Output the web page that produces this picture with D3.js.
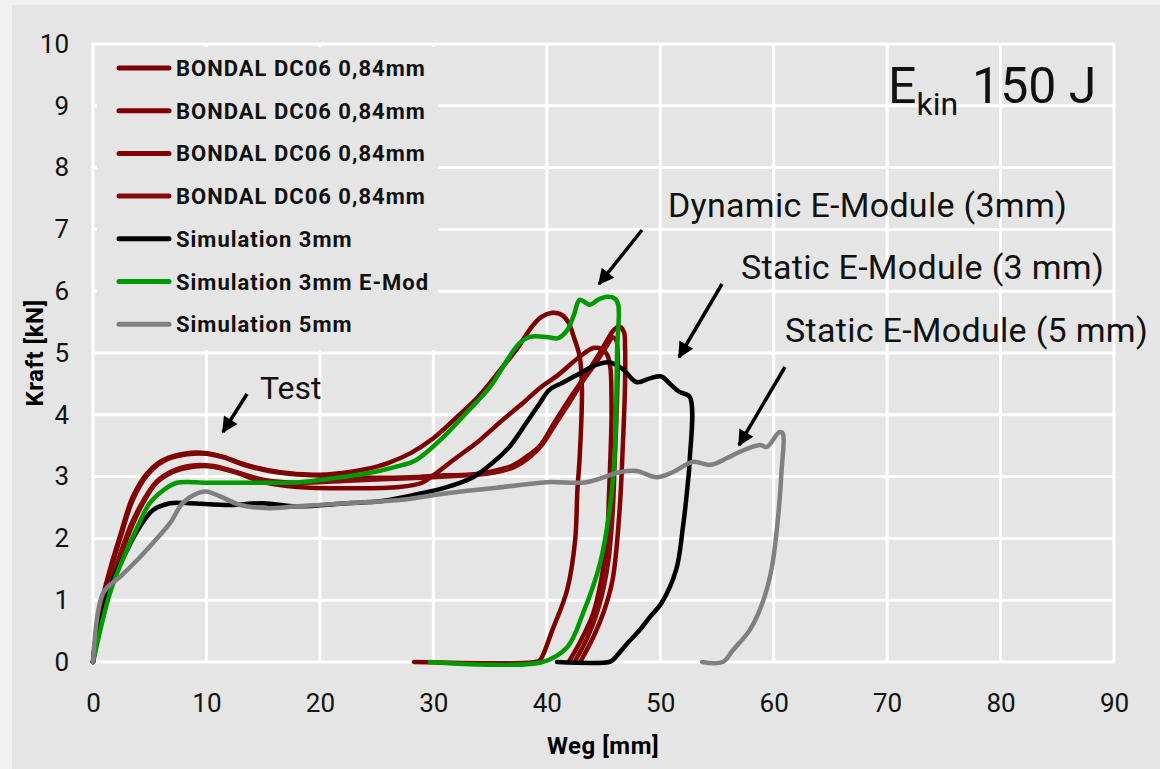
<!DOCTYPE html>
<html>
<head>
<meta charset="utf-8">
<script src="https://cdn.jsdelivr.net/npm/d3@7"></script>
<style>
html, body { margin: 0; padding: 0; background: #f1f1f1; }
svg { display: block; }
</style>
</head>
<body>
<div id="chart"></div>
<script>
// Axis ticks
const xTicks = [0, 10, 20, 30, 40, 50, 60, 70, 80, 90];
const yTicks = [0, 1, 2, 3, 4, 5, 6, 7, 8, 9, 10];

// Legend names, in drawing order
const seriesNames = [
    "BONDAL DC06 0,84mm",
    "BONDAL DC06 0,84mm",
    "BONDAL DC06 0,84mm",
    "BONDAL DC06 0,84mm",
    "Simulation 3mm",
    "Simulation 3mm E-Mod",
    "Simulation 5mm"
];

// [Weg mm, Kraft kN]
const bondal1 = [[0,0],[0.5,0.75],[1.5,1.5],[2.4,2.05],[3.5,2.67],[4.8,3.06],[6.2,3.27],[8.3,3.38],[10,3.38],[11.5,3.32],[13.5,3.19],[16.5,3.07],[19.4,3.03],[22,3.06],[24,3.12],[26,3.22],[28,3.38],[30,3.62],[32,3.95],[34,4.3],[36,4.75],[37.5,5.1],[38.5,5.38],[39.5,5.58],[40.5,5.65],[41.3,5.62],[41.9,5.5],[42.4,5.25],[42.9,4.94],[43.1,4.4],[42.9,3.32],[42.7,2.78],[42.5,1.97],[41.8,1.17],[40.5,0.52],[39.4,0.03],[39,0],[28.3,0]];
const bondal2 = [[0,0],[0.5,0.6],[1.8,1.38],[3.3,2.14],[4.4,2.57],[5.6,2.9],[7,3.07],[8.8,3.16],[10.6,3.16],[12.7,3.06],[15,2.91],[18,2.83],[22.4,2.81],[27,2.83],[29,2.9],[30,3.02],[32,3.3],[34.1,3.59],[36,3.9],[37.9,4.19],[39.5,4.45],[40.9,4.63],[42.9,4.94],[44.1,5.08],[44.8,5.07],[45.3,4.98],[45.6,4.77],[45.7,4.3],[45.7,3.87],[45.5,2.78],[45.3,1.97],[44.8,1.33],[44.1,0.79],[42.9,0.31],[42,0.02]];
const bondal3 = [[0,0],[0.5,0.7],[1.5,1.45],[2.4,2.0],[3.5,2.62],[4.8,3.03],[6.2,3.25],[8.3,3.36],[10,3.37],[11.5,3.31],[13.5,3.18],[16.5,3.06],[19.4,3.02],[22,3.0],[25,2.98],[28,2.99],[31,3.02],[33,3.03],[34.5,3.06],[36,3.12],[37,3.18],[38.2,3.32],[39.4,3.5],[40.6,3.85],[41.8,4.2],[42.9,4.5],[44.4,4.92],[45.3,5.2],[45.9,5.37],[46.4,5.43],[46.8,5.34],[46.9,5.1],[46.9,4.5],[46.7,3.48],[46.4,2.41],[45.8,1.33],[45,0.8],[44.1,0.4],[43,0.02]];
const bondal4 = [[0,0],[0.5,0.65],[1.8,1.42],[3.3,2.2],[4.4,2.6],[5.6,2.92],[7,3.09],[8.8,3.18],[10.6,3.17],[12.7,3.07],[15,2.95],[18,2.9],[22,2.93],[26,2.96],[30,2.99],[33,3.02],[34.5,3.04],[36,3.09],[37.2,3.16],[38.4,3.3],[39.6,3.52],[40.8,3.86],[42,4.2],[43.2,4.55],[44.4,4.86],[45.3,5.12],[45.8,5.25],[46.1,5.22],[46.25,5.0],[46.2,4.3],[46.0,3.3],[45.8,2.4],[45.4,1.6],[44.6,0.9],[43.6,0.4],[42.5,0.02]];
const sim3mm = [[0,0],[1.5,1.21],[3,1.81],[4.1,2.18],[5.3,2.46],[6.8,2.57],[8.5,2.57],[12.1,2.54],[15,2.57],[18,2.52],[22.4,2.57],[25.3,2.6],[28.2,2.7],[31.2,2.83],[33.5,2.99],[35.2,3.22],[36.7,3.48],[38.2,3.87],[39.4,4.19],[40.2,4.4],[41.4,4.52],[42.9,4.67],[44.4,4.81],[45.5,4.85],[46.7,4.74],[47.9,4.53],[49.1,4.59],[50.1,4.62],[50.8,4.51],[51.7,4.37],[52.6,4.29],[52.6,3.27],[52.4,2.83],[52,2.18],[51.4,1.49],[50.1,0.95],[49.1,0.73],[48.2,0.52],[47,0.28],[45.8,0.03],[45.5,0],[40.9,0]];
const sim3mmEMod = [[0,0],[1.5,1.12],[2.6,1.65],[3.9,2.18],[5,2.57],[6.2,2.78],[7.4,2.9],[10,2.9],[14.4,2.9],[18.2,2.91],[21,2.97],[24.1,3.05],[26.5,3.15],[28.5,3.27],[30.6,3.59],[32.9,4.03],[35,4.45],[36.7,4.94],[37.6,5.16],[38.5,5.26],[40,5.26],[41,5.24],[41.8,5.37],[42.4,5.62],[42.9,5.86],[43.8,5.78],[44.5,5.86],[45.3,5.91],[46.0,5.88],[46.3,5.78],[46.2,5.05],[46.0,3.38],[45.5,2.41],[44.7,1.6],[43.2,0.79],[41.8,0.24],[39.6,0],[29.7,0]];
const sim5mm = [[0,0],[0.9,1.12],[2.4,1.38],[3.9,1.65],[5.3,1.93],[6.8,2.25],[7.9,2.57],[9.2,2.73],[10,2.76],[11.2,2.68],[13,2.54],[15.3,2.49],[18,2.52],[22.4,2.57],[27,2.62],[31.2,2.73],[35.6,2.82],[40,2.91],[43.5,2.91],[46.4,3.07],[47.9,3.09],[49.7,2.99],[51.1,3.07],[52.9,3.24],[54.4,3.19],[55.9,3.3],[57,3.4],[58.8,3.51],[59.4,3.48],[60.5,3.72],[60.8,3.7],[60.7,3.11],[60.3,2.18],[59.8,1.49],[59,0.95],[57.9,0.52],[56.4,0.19],[55.5,0],[53.7,0]];

const seriesData = [bondal1, bondal2, bondal3, bondal4, sim3mm, sim3mmEMod, sim5mm];

const createChart = () => {
    const W = 1160, H = 769;
    const font = "Roboto, 'DejaVu Sans', sans-serif";
    const colors = ["#7c0000", "#7e0000", "#800404", "#850a0a", "#000000", "#009900", "#808080"];

    const svg = d3.select("#chart")
        .append("svg")
        .attr("width", W)
        .attr("height", H)
        .attr("viewBox", `0 0 ${W} ${H}`);

    // chart background
    svg.append("rect")
        .attr("x", 12).attr("y", 5)
        .attr("width", W - 12).attr("height", H - 5)
        .attr("fill", "#e5e5e5");

    const x = d3.scaleLinear().domain([0, 90]).range([93, 1114]);
    const y = d3.scaleLinear().domain([0, 10]).range([662, 44]);

    // grid
    const grid = svg.append("g").attr("stroke", "#ffffff").attr("stroke-width", 3);
    grid.selectAll(".hg").data(yTicks).enter().append("line")
        .attr("x1", x(0) - 1.5).attr("x2", x(90) + 1.5)
        .attr("y1", d => y(d)).attr("y2", d => y(d));
    grid.selectAll(".vg").data(xTicks).enter().append("line")
        .attr("x1", d => x(d)).attr("x2", d => x(d))
        .attr("y1", y(10)).attr("y2", y(0));

    // axes (labels only)
    const xAxis = svg.append("g")
        .attr("transform", `translate(0,${y(0)})`)
        .call(d3.axisBottom(x).tickValues(xTicks).tickSize(0).tickPadding(32));
    const yAxis = svg.append("g")
        .attr("transform", `translate(${x(0)},0)`)
        .call(d3.axisLeft(y).tickValues(yTicks).tickSize(0).tickPadding(24));
    [xAxis, yAxis].forEach(a => {
        a.select(".domain").remove();
        a.selectAll("text")
            .style("font-family", font)
            .style("font-size", "26px")
            .attr("fill", "#111");
    });

    // axis titles
    svg.append("text")
        .attr("x", 603).attr("y", 754)
        .attr("text-anchor", "middle")
        .style("font-family", font).style("font-size", "24px").style("font-weight", "bold")
        .style("letter-spacing", "0.5px")
        .text("Weg [mm]");
    svg.append("text")
        .attr("transform", "translate(43,353) rotate(-90)")
        .attr("text-anchor", "middle")
        .style("font-family", font).style("font-size", "24px").style("font-weight", "bold")
        .style("letter-spacing", "0.5px")
        .text("Kraft [kN]");

    // legend box hides grid beneath
    svg.append("rect")
        .attr("x", 97).attr("y", 47)
        .attr("width", 341).attr("height", 303)
        .attr("fill", "#e5e5e5");

    // series
    const line = d3.line()
        .x(d => x(d[0]))
        .y(d => y(d[1]))
        .curve(d3.curveCatmullRom.alpha(0.5));

    svg.append("g").selectAll("path")
        .data(seriesData)
        .enter()
        .append("path")
        .attr("d", line)
        .attr("fill", "none")
        .attr("stroke", (d, i) => colors[i])
        .attr("stroke-width", 4.5)
        .attr("stroke-linejoin", "round")
        .attr("stroke-linecap", "round");

    // legend
    const legend = svg.append("g");
    const rows = legend.selectAll("g")
        .data(seriesNames)
        .enter()
        .append("g")
        .attr("transform", (d, i) => `translate(0,${68 + i * 42.7})`);
    rows.append("line")
        .attr("x1", 119).attr("x2", 169)
        .attr("stroke", (d, i) => colors[i])
        .attr("stroke-width", 5)
        .attr("stroke-linecap", "round");
    rows.append("text")
        .attr("x", 176).attr("y", 8)
        .style("font-family", font).style("font-size", "22px").style("font-weight", "bold")
        .style("letter-spacing", "1px")
        .attr("fill", "#111")
        .text(d => d);

    // title
    const title = svg.append("text")
        .attr("x", 888).attr("y", 103)
        .style("font-family", font).attr("fill", "#111");
    title.append("tspan").style("font-size", "50px").text("E");
    title.append("tspan").attr("dy", 12).style("font-size", "32px").text("kin");
    title.append("tspan").attr("dy", -12).attr("dx", 14).style("font-size", "50px").text("150 J");

    // annotations with arrows
    svg.append("defs").append("marker")
        .attr("id", "head")
        .attr("viewBox", "0 0 10 10")
        .attr("refX", 9).attr("refY", 5)
        .attr("markerWidth", 20).attr("markerHeight", 16)
        .attr("markerUnits", "userSpaceOnUse")
        .attr("orient", "auto")
        .append("path")
        .attr("d", "M0,0 L10,5 L0,10 Z")
        .attr("fill", "#000");

    const notes = [
        { text: "Test", tx: 260, ty: 399, size: 32, ls: 0, from: [247, 394], to: [223, 432] },
        { text: "Dynamic E-Module (3mm)", tx: 668, ty: 217, size: 34, ls: 0.3, from: [642, 230], to: [599, 284] },
        { text: "Static E-Module (3 mm)", tx: 741, ty: 279, size: 34, ls: 0.3, from: [722, 284], to: [679, 357] },
        { text: "Static E-Module (5 mm)", tx: 785, ty: 342, size: 34, ls: 0.3, from: [785, 367], to: [739, 445] }
    ];
    svg.append("g").selectAll("text")
        .data(notes).enter().append("text")
        .attr("x", d => d.tx).attr("y", d => d.ty)
        .style("font-family", font).style("font-size", d => d.size + "px")
        .style("letter-spacing", d => d.ls + "px")
        .attr("fill", "#111")
        .text(d => d.text);
    svg.append("g").selectAll("line")
        .data(notes).enter().append("line")
        .attr("x1", d => d.from[0]).attr("y1", d => d.from[1])
        .attr("x2", d => d.to[0]).attr("y2", d => d.to[1])
        .attr("stroke", "#000").attr("stroke-width", 3.5)
        .attr("marker-end", "url(#head)");
};

createChart();
</script>
</body>
</html>
